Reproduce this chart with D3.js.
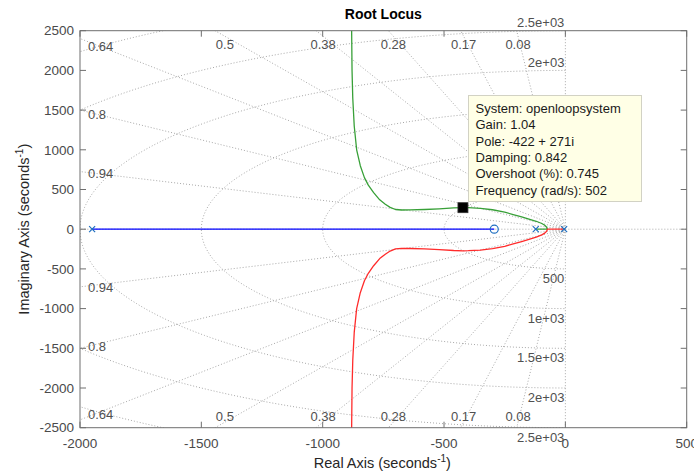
<!DOCTYPE html>
<html><head><meta charset="utf-8">
<script src="https://cdn.jsdelivr.net/npm/d3@7"></script>
<style>
body{margin:0;background:#fff}
svg{display:block}
text{font-family:"Liberation Sans",Arial,Helvetica,sans-serif}
</style>
</head><body>
<svg id="chart" width="694" height="475"></svg>
<script>
// ---- data ----
const xTicks = [-2000, -1500, -1000, -500, 0, 500];
const yTicks = [-2500, -2000, -1500, -1000, -500, 0, 500, 1000, 1500, 2000, 2500];
const zetaValues = [0.94, 0.8, 0.64, 0.5, 0.38, 0.28, 0.17, 0.08];
const zetaLabels = ["0.94", "0.8", "0.64", "0.5", "0.38", "0.28", "0.17", "0.08"];
const wnValues = [500, 1000, 1500, 2000, 2500, 3000];
const wnLabels = ["500", "1e+03", "1.5e+03", "2e+03", "2.5e+03", ""];
const polesRe = [-1950, -122, -5];
const zerosRe = [-293];
const branchBlue = [[-1950, 0], [-293, 0]];
const branchGreen = [[-122, 0], [-74, 0], [-77, 25], [-85, 50], [-97, 72], [-120, 100], [-150, 128], [-180, 155], [-215, 185], [-250, 215], [-300, 245], [-350, 263], [-400, 271], [-422, 272], [-460, 268], [-520, 256], [-580, 248], [-640, 243], [-675, 242], [-700, 248], [-722, 275], [-742, 315], [-765, 370], [-790, 460], [-812, 555], [-828, 650], [-845, 800], [-860, 1000], [-870, 1300], [-876, 1650], [-879, 2000], [-881, 2600]];
const branchRed = [[-5, 0], [-74, 0], [-77, -25], [-85, -50], [-97, -72], [-120, -100], [-150, -128], [-180, -155], [-215, -185], [-250, -215], [-300, -245], [-350, -263], [-400, -271], [-422, -272], [-460, -268], [-520, -256], [-580, -248], [-640, -243], [-675, -242], [-700, -248], [-722, -275], [-742, -315], [-765, -370], [-790, -460], [-812, -555], [-828, -650], [-845, -800], [-860, -1000], [-870, -1300], [-876, -1650], [-879, -2000], [-881, -2600]];
const tipPoint = [-422, 271];
const tipLines = ["System: openloopsystem", "Gain: 1.04", "Pole: -422 + 271i", "Damping: 0.842", "Overshoot (%): 0.745", "Frequency (rad/s): 502"];

// ---- layout ----
const L = 80, R = 686.7, T = 30.7, B = 427.7;
const svg = d3.select("#chart");
const x = d3.scaleLinear().domain([-2000, 500]).range([L, R]);
const y = d3.scaleLinear().domain([-2500, 2500]).range([B, T]);
const axisCol = "#6e6e6e", tickTextCol = "#4a4a4a", gridCol = "#a8a8a8";
const tipBox = {x: 468.5, y: 95.5, w: 173, h: 106};

svg.append("defs").append("clipPath").attr("id", "clip")
  .append("rect").attr("x", L).attr("y", T).attr("width", R - L).attr("height", B - T);

const grid = svg.append("g").attr("clip-path", "url(#clip)")
  .attr("fill", "none").attr("stroke", gridCol).attr("stroke-width", 1).attr("stroke-dasharray", "1,2");

// natural frequency semicircles (left half plane)
const angles = d3.range(0, 181, 1).map(d => (90 + d) * Math.PI / 180);
const line = d3.line().x(d => x(d[0])).y(d => y(d[1]));
wnValues.forEach(wn => {
  grid.append("path").attr("d", line(angles.map(a => [wn * Math.cos(a), wn * Math.sin(a)])));
});
// damping rays from origin
zetaValues.forEach(z => {
  const s = Math.sqrt(1 - z * z);
  [1, -1].forEach(sg => {
    grid.append("path").attr("d", line([[0, 0], [-8000 * z, sg * 8000 * s]]));
  });
});
// axes lines (zeta = 1 / zeta = 0)
grid.append("path").attr("d", line([[0, 0], [-2000, 0]]));
grid.append("path").attr("d", line([[0, 0], [500, 0]]));
grid.append("path").attr("d", line([[0, 0], [0, 2500]]));
grid.append("path").attr("d", line([[0, 0], [0, -2500]]));

// grid labels
const lab = svg.append("g").attr("font-size", 13).attr("fill", "#505050");
zetaValues.forEach((z, i) => {
  const slope = Math.sqrt(1 - z * z) / z;
  if (slope * 2000 < 2450) {
    [1, -1].forEach(sg => {
      lab.append("text").attr("x", L + 8).attr("y", y(sg * slope * 1905) + (sg < 0 ? 3.5 : -1))
        .attr("dy", "0.35em").attr("text-anchor", "start").text(zetaLabels[i]);
    });
  } else {
    [1, -1].forEach(sg => {
      lab.append("text").attr("x", x(-2430 / slope)).attr("y", sg > 0 ? T + 13.3 : B - 11)
        .attr("dy", "0.35em").attr("text-anchor", "middle").text(zetaLabels[i]);
    });
  }
});
wnValues.forEach((wn, i) => {
  if (!wnLabels[i]) return;
  const yu = y(wn) - 8;
  // upper labels lying under the data tip box are hidden by it
  if (!(yu > tipBox.y - 6 && yu < tipBox.y + tipBox.h + 6)) {
    lab.append("text").attr("x", x(0) - 1).attr("y", yu).attr("dy", "0.35em")
      .attr("text-anchor", "end").text(wnLabels[i]);
  }
  lab.append("text").attr("x", x(0) - 1).attr("y", y(-wn) + 9.5).attr("dy", "0.35em")
    .attr("text-anchor", "end").text(wnLabels[i]);
});

// loci
const loci = svg.append("g").attr("clip-path", "url(#clip)").attr("fill", "none").attr("stroke-width", 1.3);
const smooth = d3.line().x(d => x(d[0])).y(d => y(d[1])).curve(d3.curveMonotoneY);
loci.append("path").attr("d", line(branchBlue)).attr("stroke", "#0000ff");
loci.append("path").attr("d", line(branchGreen)).attr("stroke", "#38a038").attr("stroke-linejoin", "round");
loci.append("path").attr("d", line(branchRed)).attr("stroke", "#ff2b2b").attr("stroke-linejoin", "round");

// poles and zeros
const pz = svg.append("g").attr("stroke", "#1f6fc0").attr("stroke-width", 1.2).attr("fill", "none");
polesRe.forEach(p => {
  const cx = x(p), cy = y(0), h = 3;
  pz.append("path").attr("d", `M${cx - h},${cy - h}L${cx + h},${cy + h}M${cx - h},${cy + h}L${cx + h},${cy - h}`);
});
zerosRe.forEach(z => {
  pz.append("circle").attr("cx", x(z)).attr("cy", y(0)).attr("r", 4);
});

// axes box and ticks
const ax = svg.append("g");
ax.append("rect").attr("x", L).attr("y", T).attr("width", R - L).attr("height", B - T)
  .attr("fill", "none").attr("stroke", axisCol).attr("stroke-width", 1);
const tickLen = 6;
xTicks.forEach(t => {
  ax.append("line").attr("x1", x(t)).attr("x2", x(t)).attr("y1", B).attr("y2", B - tickLen).attr("stroke", axisCol);
  ax.append("line").attr("x1", x(t)).attr("x2", x(t)).attr("y1", T).attr("y2", T + tickLen).attr("stroke", axisCol);
  ax.append("text").attr("x", x(t)).attr("y", 443.5).attr("dy", "0.35em").attr("text-anchor", "middle")
    .attr("font-size", 13.5).attr("fill", tickTextCol).text(t);
});
yTicks.forEach(t => {
  ax.append("line").attr("x1", L).attr("x2", L + tickLen).attr("y1", y(t)).attr("y2", y(t)).attr("stroke", axisCol);
  ax.append("line").attr("x1", R).attr("x2", R - tickLen).attr("y1", y(t)).attr("y2", y(t)).attr("stroke", axisCol);
  ax.append("text").attr("x", L - 6).attr("y", y(t)).attr("dy", "0.35em").attr("text-anchor", "end")
    .attr("font-size", 13.5).attr("fill", tickTextCol).text(t);
});

// title and axis labels
svg.append("text").attr("x", (L + R) / 2).attr("y", 14).attr("dy", "0.35em").attr("text-anchor", "middle")
  .attr("font-size", 14).attr("font-weight", "bold").attr("fill", "#000").text("Root Locus");
const xl = svg.append("text").attr("x", (L + R) / 2 - 1).attr("y", 468).attr("text-anchor", "middle")
  .attr("font-size", 14.5).attr("fill", "#262626");
xl.append("tspan").text("Real Axis (seconds");
xl.append("tspan").attr("font-size", 10).attr("dy", -6).text("-1");
xl.append("tspan").attr("dy", 6).text(")");
const yl = svg.append("text").attr("transform", `translate(29,${(T + B) / 2}) rotate(-90)`)
  .attr("text-anchor", "middle").attr("font-size", 14.5).attr("fill", "#262626");
yl.append("tspan").text("Imaginary Axis (seconds");
yl.append("tspan").attr("font-size", 10).attr("dy", -6).text("-1");
yl.append("tspan").attr("dy", 6).text(")");

// data tip marker
svg.append("rect").attr("x", x(tipPoint[0]) - 5).attr("y", y(tipPoint[1]) - 5).attr("width", 10).attr("height", 10)
  .attr("fill", "#000").attr("stroke", "#333").attr("stroke-width", 0.8);

// data tip box
const tip = svg.append("g");
tip.append("rect").attr("x", tipBox.x).attr("y", tipBox.y).attr("width", tipBox.w).attr("height", tipBox.h)
  .attr("fill", "#ffffe6").attr("stroke", "#d2d2c4").attr("stroke-width", 1);
tipLines.forEach((t, i) => {
  tip.append("text").attr("x", 475.5).attr("y", 108.3 + i * 16.35).attr("dy", "0.35em")
    .attr("font-size", 13).attr("fill", "#1a1a1a").text(t);
});
</script>
</body></html>
